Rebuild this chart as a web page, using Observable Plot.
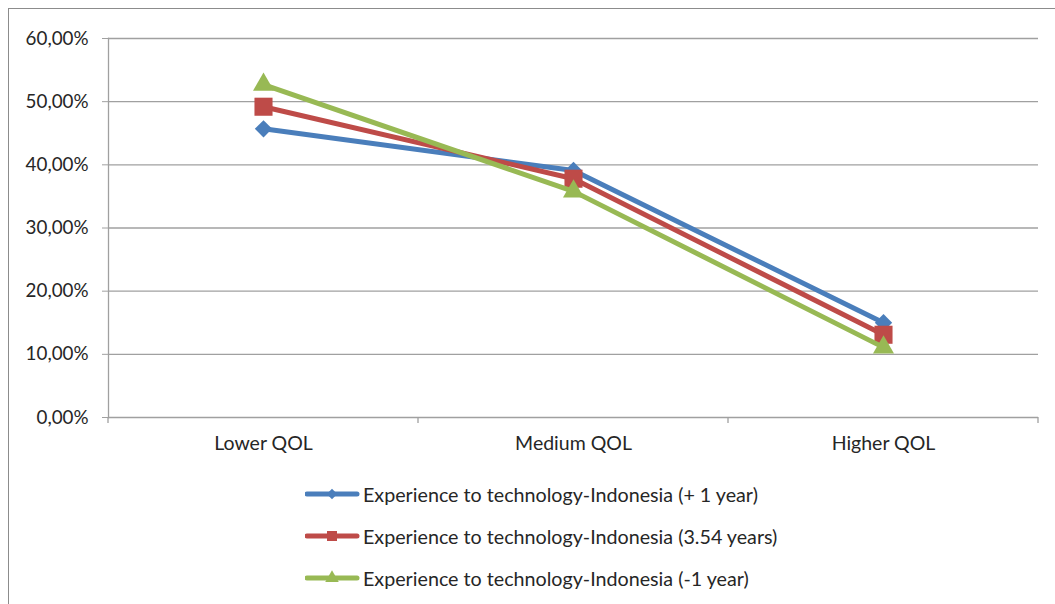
<!DOCTYPE html>
<html>
<head>
<meta charset="utf-8">
<script src="https://cdn.jsdelivr.net/npm/d3@7"></script>
<script src="https://cdn.jsdelivr.net/npm/@observablehq/plot@0.6"></script>
<style>
  body { margin: 0; background: #fff; }
  #wrap { position: relative; width: 1055px; height: 604px; overflow: hidden; font-family: Lato, "Open Sans", sans-serif; color: #262626; }
  #border { position: absolute; left: 8px; top: 8px; width: 1100px; height: 700px; border-left: 1.5px solid #8c8c8c; border-top: 1.5px solid #8c8c8c; }
  #chart { position: absolute; left: 0; top: 0; }
  #legend { position: absolute; left: 305px; top: 473px; }
  .row { display: flex; align-items: center; height: 42px; font-size: 19.7px; white-space: nowrap; }
  .row svg { flex: none; }
</style>
</head>
<body>
<div id="wrap"><div id="border"></div><div id="chart"></div><div id="legend"></div></div>
<script>
const categories = ["Lower QOL", "Medium QOL", "Higher QOL"];
const seriesNames = [
  "Experience to technology-Indonesia (+ 1 year)",
  "Experience to technology-Indonesia (3.54 years)",
  "Experience to technology-Indonesia (-1 year)"
];
const plusOneYear = [0.457, 0.391, 0.150];
const meanYears = [0.492, 0.378, 0.131];
const minusOneYear = [0.527, 0.358, 0.111];
const yTicks = [0, 0.1, 0.2, 0.3, 0.4, 0.5, 0.6];
const seriesValues = [plusOneYear, meanYears, minusOneYear];
const colors = ["#4A7EBB", "#BE4B48", "#98B954"];
const symbols = ["diamond2", "square", "triangle"];
const markerR = [7.8, 10.2, 7.8];

const rows = seriesNames.flatMap((s, i) => categories.map((c, j) => ({series: s, cat: c, value: seriesValues[i][j]})));

const locale = d3.formatLocale({decimal: ",", thousands: ".", grouping: [3], currency: ["", "€"]});
const pct = locale.format(".2%");

const gridColor = "#a0a0a0";
const marks = [
  Plot.ruleY(yTicks, {stroke: gridColor, strokeWidth: 1.3}),
  Plot.frame({anchor: "left", stroke: gridColor, strokeWidth: 1.3}),
  Plot.axisY(yTicks, {tickFormat: pct, tickSize: 6, tickPadding: 14, stroke: gridColor, fill: "#262626", fontSize: 18.8, fontFamily: "Lato"}),
  Plot.axisX({tickSize: 0, tickPadding: 19, fill: "#262626", fontSize: 19.5, fontFamily: "Lato"})
];
seriesNames.forEach((s, i) => {
  const data = rows.filter(d => d.series === s);
  marks.push(Plot.line(data, {x: "cat", y: "value", stroke: colors[i], strokeWidth: 5, strokeLinejoin: "round"}));
  marks.push(Plot.dot(data, {x: "cat", y: "value", symbol: symbols[i], r: markerR[i], fill: colors[i], stroke: "none"}));
});

const chart = Plot.plot({
  width: 1055,
  height: 470,
  marginLeft: 108,
  marginRight: 17,
  marginTop: 38,
  marginBottom: 53,
  style: {background: "transparent", overflow: "visible"},
  x: {type: "band", domain: categories, padding: 0, label: null},
  y: {domain: [0, 0.6], label: null},
  marks
});
document.getElementById("chart").appendChild(chart);

// category boundary ticks on the x axis, from the plot's own scales
const xs = chart.scale("x"), ys = chart.scale("y");
const y0 = ys.apply(0);
const bounds = categories.map(c => xs.apply(c)).concat([xs.apply(categories[categories.length - 1]) + xs.bandwidth]);
d3.select(chart).append("g").selectAll("line").data(bounds).join("line")
  .attr("x1", d => d).attr("x2", d => d).attr("y1", y0).attr("y2", y0 + 6)
  .attr("stroke", gridColor).attr("stroke-width", 1.3);

// legend
const legend = d3.select("#legend");
seriesNames.forEach((s, i) => {
  const row = legend.append("div").attr("class", "row");
  const svg = row.append("svg").attr("width", 58).attr("height", 20);
  svg.append("line").attr("x1", 2).attr("x2", 52).attr("y1", 10).attr("y2", 10)
    .attr("stroke", colors[i]).attr("stroke-width", 5).attr("stroke-linecap", "round");
  const sym = [d3.symbolDiamond2, d3.symbolSquare, d3.symbolTriangle][i];
  const size = [70, 100, 80][i];
  svg.append("path").attr("d", d3.symbol(sym, size)()).attr("transform", "translate(27,10)").attr("fill", colors[i]);
  row.append("span").text(s);
});
</script>
</body>
</html>
